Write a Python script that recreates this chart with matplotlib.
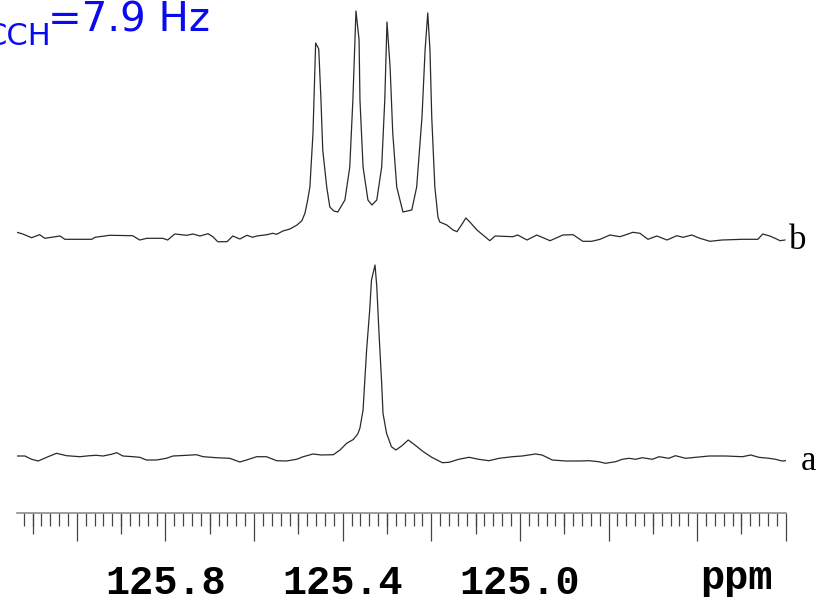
import matplotlib
matplotlib.use("Agg")
import matplotlib.pyplot as plt
from matplotlib.ticker import MultipleLocator, FixedLocator, FuncFormatter

# trace b: proton-coupled 13C signal (quartet), chemical shift in ppm
ppm_b = [126.135, 126.122, 126.102, 126.084, 126.072, 126.038, 126.027, 125.966,
         125.959, 125.926, 125.874, 125.858, 125.842, 125.806, 125.795, 125.779,
         125.752, 125.738, 125.722, 125.704, 125.693, 125.682, 125.661, 125.648,
         125.632, 125.616, 125.603, 125.594, 125.571, 125.558, 125.549, 125.535,
         125.519, 125.503, 125.492, 125.485, 125.479, 125.474, 125.467, 125.463,
         125.461, 125.454, 125.449, 125.445, 125.436, 125.429, 125.420, 125.411,
         125.395, 125.384, 125.377, 125.370, 125.363, 125.361, 125.354, 125.343,
         125.334, 125.323, 125.312, 125.305, 125.300, 125.293, 125.287, 125.278,
         125.264, 125.244, 125.233, 125.221, 125.214, 125.208, 125.203, 125.199,
         125.192, 125.185, 125.181, 125.165, 125.151, 125.142, 125.129, 125.122,
         125.113, 125.097, 125.068, 125.056, 125.016, 125.005, 124.984, 124.962,
         124.932, 124.903, 124.880, 124.858, 124.838, 124.819, 124.797, 124.774,
         124.745, 124.729, 124.711, 124.691, 124.668, 124.646, 124.632, 124.612,
         124.594, 124.571, 124.544, 124.497, 124.463, 124.452, 124.436, 124.424,
         124.413, 124.402]
int_b = [4.7, 3, -0.7, 2.3, -1.3, 1, -2.3, -2.3,
         -0.3, 1.7, 1.3, -3, -1.3, -1.3, -3, 3,
         1.7, 3, 1, 3.3, 0.3, -4.7, -4.7, 1,
         -2, 1.7, -0.3, 1, 2.3, 3.7, 2.7, 6,
         8, 12, 16.3, 24, 37, 50, 104, 164,
         194, 188, 137, 87, 50, 30, 26, 25,
         37, 70, 137, 226, 197, 137, 70, 37,
         32, 37, 70, 137, 215, 170, 104, 50,
         25, 27, 50, 120, 187, 224, 187, 120,
         50, 20, 15, 12, 7, 5.3, 14, 19,
         15, 7, -3.7, 1, 0.3, 2, -3, 2,
         -3.7, 2, 2.3, -4.3, -4.3, -2.3, 2, 0.3,
         4.7, 3.7, -2.3, 1, -3, 1.3, -0.3, 2,
         -1.3, -4.3, -3, -2.3, -2.3, 3, 1, -1.3,
         -3.7, -3]

# trace a: decoupled singlet
ppm_a = [126.135, 126.117, 126.102, 126.087, 126.068, 126.046, 126.023, 125.993,
         125.971, 125.956, 125.941, 125.922, 125.910, 125.896, 125.873, 125.858,
         125.843, 125.820, 125.798, 125.783, 125.752, 125.730, 125.715, 125.685,
         125.655, 125.632, 125.617, 125.594, 125.572, 125.549, 125.527, 125.504,
         125.489, 125.467, 125.448, 125.421, 125.406, 125.391, 125.376, 125.366,
         125.361, 125.354, 125.346, 125.339, 125.335, 125.327, 125.323, 125.318,
         125.312, 125.309, 125.301, 125.290, 125.280, 125.267, 125.252, 125.237,
         125.218, 125.199, 125.175, 125.160, 125.138, 125.115, 125.093, 125.070,
         125.047, 125.017, 124.995, 124.965, 124.950, 124.927, 124.897, 124.867,
         124.844, 124.822, 124.807, 124.784, 124.769, 124.754, 124.739, 124.724,
         124.701, 124.686, 124.664, 124.649, 124.626, 124.603, 124.573, 124.536,
         124.498, 124.479, 124.461, 124.438, 124.423, 124.408, 124.400]
int_a = [1, 1, -2.3, -4, -0.3, 3.7, 1.3, 0.3,
         1.3, 1.7, 1, 2.7, 4.3, 1, 0.3, -0.3,
         -3, -3, -1.3, 1, 1.7, 2.3, 0.3, -0.7,
         -1.3, -5, -3, 0.3, 0.3, -3.7, -4, -2.3,
         0.3, 3, 2, 2.3, 7, 13.7, 17.5, 23,
         29, 47, 107, 147, 177, 192, 170.3, 123.7,
         73.7, 43.7, 23.7, 10.3, 7, 11, 17, 12,
         5.3, -0.3, -5.7, -5.3, -2.3, -0.3, -2.3, -3.7,
         -1.3, 0.3, 1, 3, 2, -3, -4, -4,
         -3.7, -4.7, -6.3, -4.7, -2.3, -1.3, -2.3, -0.7,
         -2.3, 0.3, -1.3, 1.3, -1.3, -0.3, 1, 1,
         0.3, 2, -0.3, -1.3, -2.3, -4, -3.7]

offset_b = 220
labelled_ticks = [125.8, 125.4, 125.0]
half_ticks = [126.1, 125.9, 125.7, 125.5, 125.3, 125.1, 124.9, 124.7, 124.5]

trace_color = "#2a2a2a"
ruler_color = "#8c8c8c"
tick_color = "#454545"
note_color = "#0a0af0"

fig = plt.figure(figsize=(8.19, 6.05), dpi=100)
fig.patch.set_facecolor("white")
ax = fig.add_axes([17 / 819, 92 / 605, 769 / 819, 513 / 605])
ax.patch.set_alpha(0)

ax.plot(ppm_b, [v + offset_b for v in int_b], color=trace_color, linewidth=0.9,
        solid_joinstyle="round")
ax.plot(ppm_a, int_a, color=trace_color, linewidth=0.9, solid_joinstyle="round")

ax.set_xlim(126.135, 124.3995)
ax.set_ylim(-56, 457)

for side in ("left", "right", "top"):
    ax.spines[side].set_visible(False)
ax.spines["bottom"].set_color(ruler_color)
ax.spines["bottom"].set_linewidth(1.2)
ax.yaxis.set_visible(False)

# ruler: long ticks every 0.2 ppm, short every 0.02, medium ones halfway
ax.xaxis.set_major_locator(MultipleLocator(0.2))
ax.xaxis.set_minor_locator(MultipleLocator(0.02))
ax.xaxis.set_major_formatter(FuncFormatter(
    lambda v, _: f"{v:.1f}" if any(abs(v - t) < 1e-6 for t in labelled_ticks) else ""))
ax.tick_params(axis="x", which="major", direction="out", length=20.5, width=0.9,
               color=tick_color, pad=16)
ax.tick_params(axis="x", which="minor", direction="out", length=9.5, width=0.9,
               color=tick_color)
for lbl in ax.get_xticklabels():
    lbl.set_fontfamily("Liberation Mono")
    lbl.set_fontweight("bold")
    lbl.set_fontsize(29)

sec = ax.secondary_xaxis("bottom")
sec.xaxis.set_major_locator(FixedLocator(half_ticks))
sec.tick_params(axis="x", direction="out", length=15.3, width=0.9, color=tick_color,
                labelbottom=False)
sec.spines["bottom"].set_visible(False)

ax.annotate("ppm", xy=(124.512, 0), xycoords=("data", "axes fraction"),
            xytext=(0, -55), textcoords="offset points", ha="center", va="baseline",
            fontfamily="Liberation Mono", fontweight="bold", fontsize=29)

ax.text(124.393, 208, "b", fontfamily="Liberation Serif", fontsize=25,
        ha="left", va="baseline", clip_on=False)
ax.text(124.366, -13, "a", fontfamily="Liberation Serif", fontsize=25,
        ha="left", va="baseline", clip_on=False)

fig.text(51 / 819, 1 - 45 / 605, "CCH", fontfamily="DejaVu Sans", fontsize=22,
         color=note_color, ha="right", va="baseline")
fig.text(48 / 819, 1 - 32 / 605, "=7.9 Hz", fontfamily="DejaVu Sans", fontsize=29,
         color=note_color, ha="left", va="baseline")

fig.savefig("out.png", dpi=100, facecolor=fig.get_facecolor())
plt.close(fig)
